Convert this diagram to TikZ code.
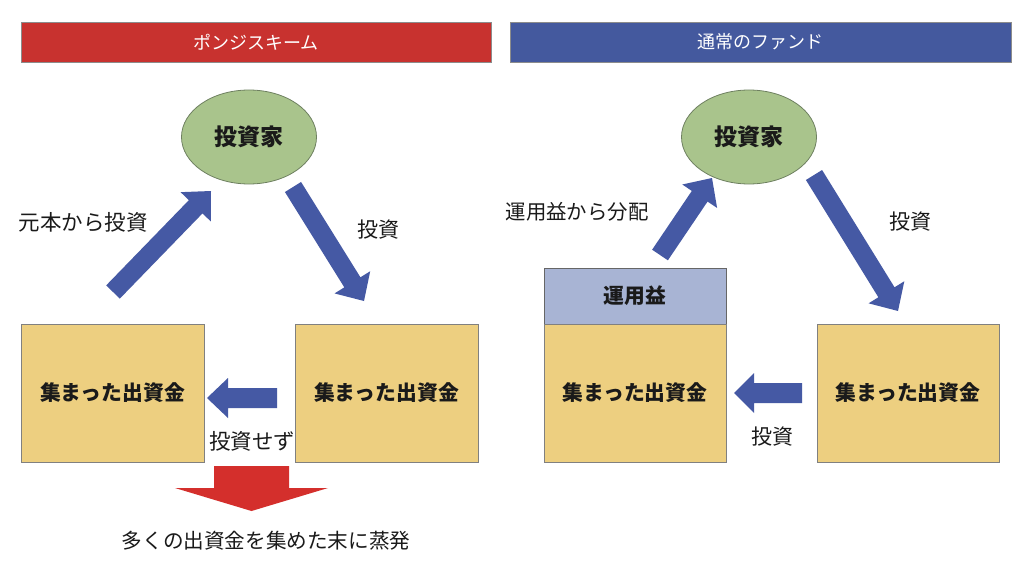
\documentclass[tikz,border=0pt]{standalone}
\usepackage{fontspec}
\setmainfont{Noto Sans CJK JP}
\usetikzlibrary{calc,shapes.geometric}
\definecolor{bannerred}{HTML}{C8322F}
\definecolor{bannerblue}{HTML}{44599E}
\definecolor{boxyellow}{HTML}{EDCF80}
\definecolor{boxblue}{HTML}{A8B4D4}
\definecolor{ellgreen}{HTML}{A9C48C}
\definecolor{ellborder}{HTML}{6E8060}
\definecolor{arrowblue}{HTML}{4559A4}
\definecolor{arrowred}{HTML}{D42F2C}
\definecolor{txt}{HTML}{1A1A1A}
\newcommand{\blockarrow}[6]{%
  \path[#6] let \p1=($(#2)-(#1)$), \n1={atan2(\y1,\x1)} in
    ($(#1)+(\n1+90:#3)$) --
    ($(#2)+(\n1+180:#5)+(\n1+90:#3)$) --
    ($(#2)+(\n1+180:#5)+(\n1+90:#4)$) --
    (#2) --
    ($(#2)+(\n1+180:#5)+(\n1-90:#4)$) --
    ($(#2)+(\n1+180:#5)+(\n1-90:#3)$) --
    ($(#1)+(\n1-90:#3)$) -- cycle;}
\tikzset{
  banner/.style={draw=black!45, line width=0.6pt, minimum height=40pt, text=white,
    font=\fontsize{18}{22}\selectfont, inner sep=0pt},
  ybox/.style={draw=black!50, line width=0.8pt, fill=boxyellow, minimum width=182pt,
    minimum height=138pt, inner sep=0pt, text=txt, font=\fontsize{20.8}{24}\selectfont\bfseries},
  bbox/.style={draw=black!60, line width=0.8pt, fill=boxblue, minimum width=182pt,
    minimum height=56pt, inner sep=0pt, text=txt, font=\fontsize{20.8}{24}\selectfont\bfseries},
  investor/.style={ellipse, draw=ellborder, line width=0.8pt, fill=ellgreen,
    minimum width=135pt, minimum height=94pt, inner sep=0pt, text=txt,
    font=\fontsize{23}{27}\selectfont\bfseries},
  lbl/.style={text=txt, inner sep=0pt, font=\fontsize{21}{25}\selectfont},
  barr/.style={fill=arrowblue},
  rarr/.style={fill=arrowred}
}
\begin{document}
\begin{tikzpicture}[x=1pt,y=-1pt]
\useasboundingbox[fill=white] (0,0) rectangle (1024,567);
% banners
\node[banner, fill=bannerred, minimum width=470pt] (bl) at (256,42) {ポンジスキーム};
\node[banner, fill=bannerblue, minimum width=501pt] (br) at (760.5,42) {通常のファンド};
% left: Ponzi
\node[investor] (invL) at (249,137) {投資家};
\node[ybox, minimum width=183pt] (poolLL) at (112.5,393) {集まった出資金};
\node[ybox, minimum width=183pt] (poolLR) at (386.5,393) {集まった出資金};
\coordinate (aL1s) at (113,292);
\coordinate (aL1e) at (211,191);
\blockarrow{aL1s}{aL1e}{9.5pt}{21pt}{22pt}{barr}
\coordinate (aL2s) at (293,187);
\coordinate (aL2e) at (364,301);
\blockarrow{aL2s}{aL2e}{9.5pt}{21pt}{22pt}{barr}
\coordinate (aL3s) at (277,398);
\coordinate (aL3e) at (207,398);
\blockarrow{aL3s}{aL3e}{10pt}{20pt}{21pt}{barr}
\coordinate (aL4s) at (251.5,466);
\coordinate (aL4e) at (251.5,511);
\blockarrow{aL4s}{aL4e}{37.5pt}{76.5pt}{23pt}{rarr}
\node[lbl, font=\fontsize{21.5}{25}\selectfont] (tL1) at (83,222) {元本から投資};
\node[lbl] (tL2) at (378,230) {投資};
\node[lbl, font=\fontsize{21.5}{25}\selectfont] (tL3) at (252,441) {投資せず};
\node[lbl, font=\fontsize{20.6}{25}\selectfont] (tL4) at (266,541) {多くの出資金を集めた末に蒸発};
% right: normal fund
\node[investor] (invR) at (749,137) {投資家};
\node[bbox] (gain) at (635,296) {運用益};
\node[ybox] (poolRL) at (635,393) {集まった出資金};
\node[ybox] (poolRR) at (908,393) {集まった出資金};
\coordinate (aR1s) at (660,255);
\coordinate (aR1e) at (712,178);
\blockarrow{aR1s}{aR1e}{9.5pt}{21pt}{22pt}{barr}
\coordinate (aR2s) at (814,175);
\coordinate (aR2e) at (898,311);
\blockarrow{aR2s}{aR2e}{9.5pt}{21pt}{22pt}{barr}
\coordinate (aR3s) at (802,393);
\coordinate (aR3e) at (734,393);
\blockarrow{aR3s}{aR3e}{10pt}{20pt}{20pt}{barr}
\node[lbl, font=\fontsize{20.4}{25}\selectfont] (tR1) at (577,212) {運用益から分配};
\node[lbl] (tR2) at (910,222) {投資};
\node[lbl] (tR3) at (772,437) {投資};
\end{tikzpicture}
\end{document}
